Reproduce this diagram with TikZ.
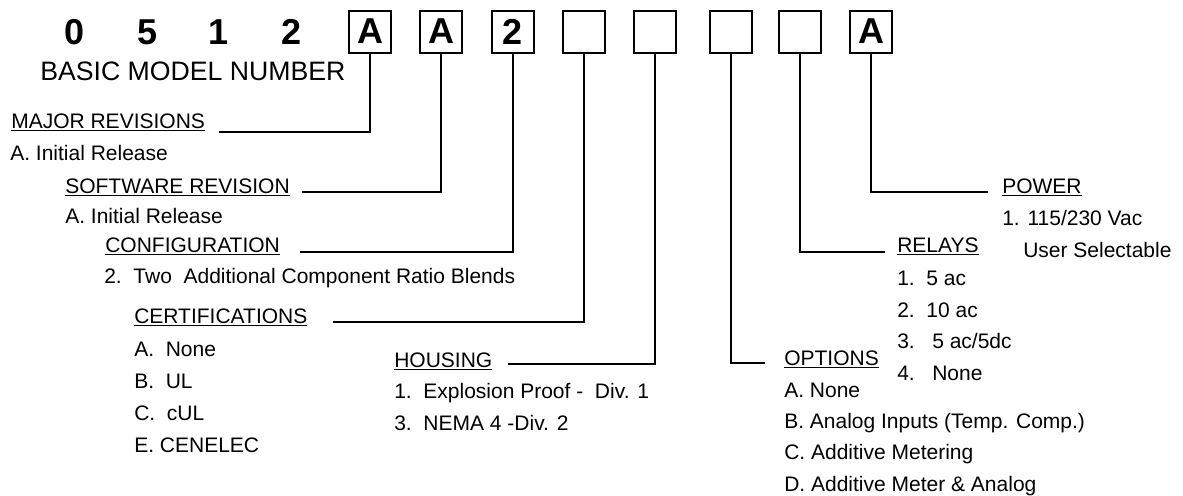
\documentclass[tikz,border=0pt]{standalone}
\usepackage{fontspec}
\setmainfont{Liberation Sans}
\usetikzlibrary{positioning}

\begin{document}
\begin{tikzpicture}[x=0.75pt, y=-0.75pt,
    every node/.style={font=\fontsize{15.75}{18}\selectfont, inner sep=0pt, anchor=base west},
    digit/.style={font=\fontsize{27}{30}\selectfont\bfseries, anchor=base},
    codebox/.style={draw, line width=1.5pt, minimum width=32pt, minimum height=31.5pt, anchor=north,
        font=\fontsize{27}{30}\selectfont\bfseries},
    conn/.style={line width=1.5pt}
]
\useasboundingbox (0,0) rectangle (1183,496);
% Basic model number
\foreach \x/\d [count=\i] in {75/0, 148/5, 219/1, 292/2}
    \node[digit] (d\i) at (\x,44) {\d};
\node[font=\fontsize{20}{24}\selectfont] (basic) at (40,80) {BASIC MODEL NUMBER};
% Code boxes
\foreach \x/\c [count=\i] in {370/A, 441/A, 513/2, 584/{}, 655/{}, 731/{}, 800/{}, 871/A}
    \node[codebox] (b\i) at (\x,9.5) {\c};
% Left column
\node (major) at (11,128) {\underline{MAJOR REVISIONS}};
\node (majorA) at (10,160) {A. Initial Release};
\node (soft) at (65,193) {\underline{SOFTWARE REVISION}};
\node (softA) at (65,223) {A. Initial Release};
\node (config) at (105,252) {\underline{CONFIGURATION}};
\node (config2) at (104,283) {2.\ \ Two\ \ Additional Component Ratio Blends};
\node (cert) at (134,323) {\underline{CERTIFICATIONS}};
\foreach \y/\t [count=\i] in {356/{A.\ \ None}, 388/{B.\ \ UL}, 420/{C.\ \ cUL}, 452/{E. CENELEC}}
    \node (cert\i) at (134,\y) {\t};
% Housing
\node (housing) at (394,367) {\underline{HOUSING}};
\foreach \y/\t [count=\i] in {398/{1.\ \ Explosion Proof -\ \ Div. 1}, 430/{3.\ \ NEMA 4 -Div. 2}}
    \node (housing\i) at (394,\y) {\t};
% Options, relays, power
\node (options) at (784,365) {\underline{OPTIONS}};
\foreach \y/\t [count=\i] in {397/{A. None}, 428/{B. Analog Inputs (Temp. Comp.)}, 459/{C. Additive Metering}, 491/{D. Additive Meter \& Analog}}
    \node (options\i) at (784,\y) {\t};
\node (relays) at (897,252) {\underline{RELAYS}};
\foreach \y/\t [count=\i] in {285/{1.\ \ 5 ac}, 317/{2.\ \ 10 ac}, 348/{3.\ \ \ 5 ac/5dc}, 380/{4.\ \ \ None}}
    \node (relays\i) at (897,\y) {\t};
\node (power) at (1002,193) {\underline{POWER}};
\node (power1) at (1002,225) {1. 115/230 Vac};
\node (power2) at (1023,257) {User Selectable};
% Connectors
\coordinate (majorEnd) at (219,132);
\coordinate (softEnd) at (302,192);
\coordinate (configEnd) at (300,252);
\coordinate (certEnd) at (333,322);
\coordinate (housingEnd) at (508,364);
\coordinate (optionsEnd) at (765,363);
\coordinate (relaysEnd) at (885,252);
\coordinate (powerEnd) at (988,192);
\draw[conn] (b1.south) |- (majorEnd);
\draw[conn] (b2.south) |- (softEnd);
\draw[conn] (b3.south) |- (configEnd);
\draw[conn] (b4.south) |- (certEnd);
\draw[conn] (b5.south) |- (housingEnd);
\draw[conn] (b6.south) |- (optionsEnd);
\draw[conn] (b7.south) |- (relaysEnd);
\draw[conn] (b8.south) |- (powerEnd);
\end{tikzpicture}
\end{document}
